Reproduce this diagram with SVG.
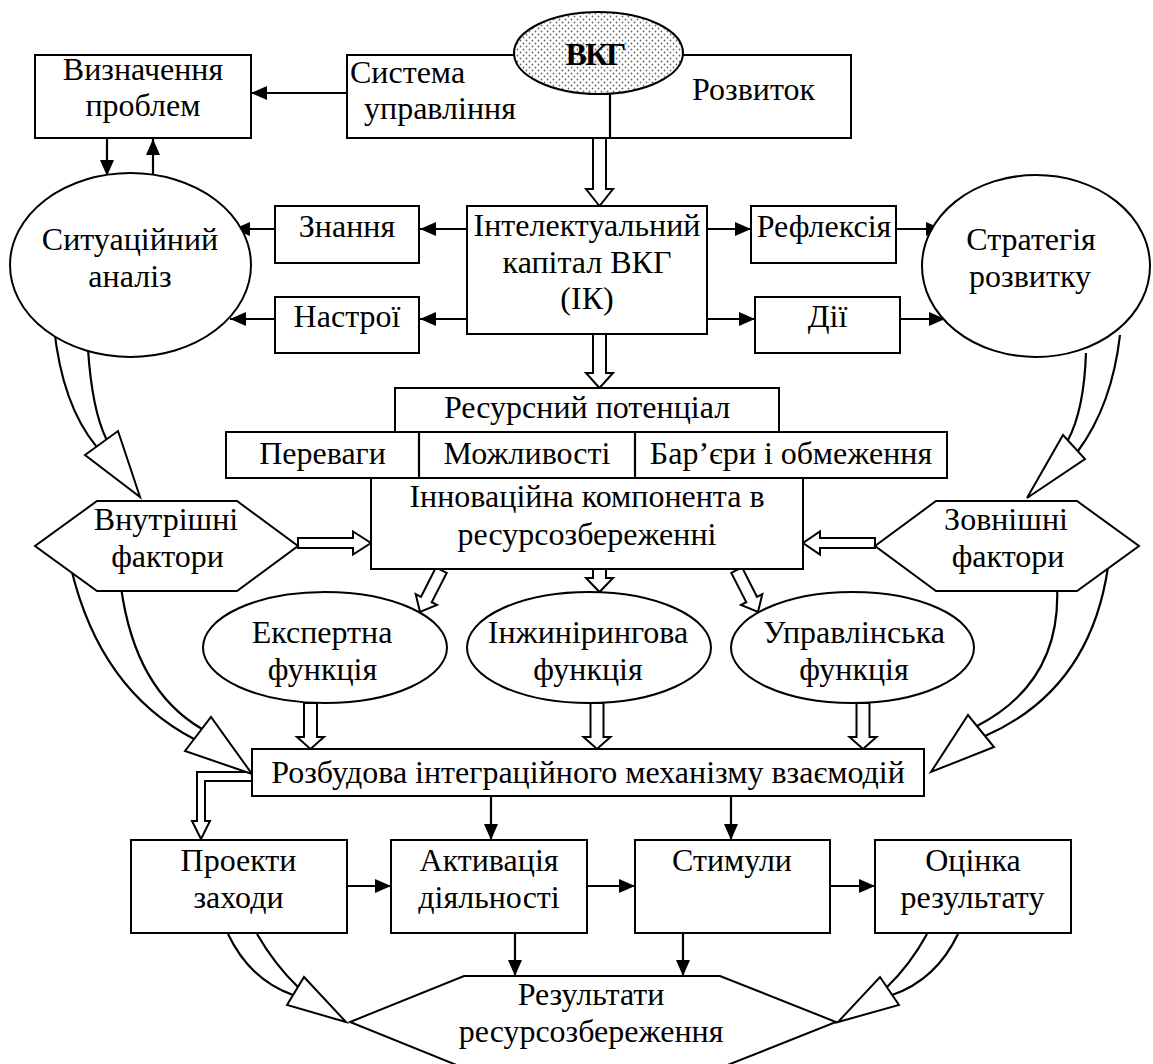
<svg xmlns="http://www.w3.org/2000/svg" width="1153" height="1064" viewBox="0 0 1153 1064">
  <style>
    .b { fill: #fff; stroke: #000; stroke-width: 2; }
    .ln { fill: none; stroke: #000; stroke-width: 2.2; }
    .ar { fill: none; stroke: #000; stroke-width: 2.2; marker-end: url(#ah); }
    .blk { fill: #fff; stroke: #000; stroke-width: 2; stroke-linejoin: miter; }
    text { font-family: "Liberation Serif", "Times New Roman", serif; font-size: 32px; fill: #000; text-anchor: middle; }
    .l { text-anchor: start; }
  </style>
  <defs>
    <marker id="ah" markerWidth="16" markerHeight="14" refX="16" refY="7" orient="auto" markerUnits="userSpaceOnUse">
      <path d="M0,0 L16,7 L0,14 z" fill="#000"/>
    </marker>
    <pattern id="dots" width="6" height="6" patternUnits="userSpaceOnUse">
      <rect width="6" height="6" fill="#fff"/>
      <circle cx="1.5" cy="1.5" r="0.9" fill="#666"/>
      <circle cx="4.5" cy="4.5" r="0.9" fill="#666"/>
    </pattern>
  </defs>

  <!-- connectors -->
  <g id="connectors">
    <!-- thin arrows -->
    <line class="ar" x1="347" y1="93" x2="251" y2="93"/>
    <line class="ar" x1="107" y1="138" x2="107" y2="176"/>
    <line class="ar" x1="153" y1="176" x2="153" y2="139"/>
    <line class="ar" x1="467" y1="229" x2="420" y2="229"/>
    <line class="ar" x1="275" y1="229" x2="234" y2="229"/>
    <line class="ar" x1="467" y1="319" x2="420" y2="319"/>
    <line class="ar" x1="275" y1="319" x2="230" y2="319"/>
    <line class="ar" x1="707" y1="229" x2="751" y2="229"/>
    <line class="ar" x1="896" y1="229" x2="942" y2="229"/>
    <line class="ar" x1="707" y1="319" x2="755" y2="319"/>
    <line class="ar" x1="900" y1="319" x2="945" y2="319"/>
    <line class="ar" x1="491" y1="796" x2="491" y2="840"/>
    <line class="ar" x1="731" y1="796" x2="731" y2="840"/>
    <line class="ar" x1="347" y1="886" x2="391" y2="886"/>
    <line class="ar" x1="587" y1="886" x2="635" y2="886"/>
    <line class="ar" x1="830" y1="886" x2="875" y2="886"/>
    <line class="ar" x1="515" y1="933" x2="515" y2="976"/>
    <line class="ar" x1="683" y1="933" x2="683" y2="976"/>

    <!-- hollow block arrows -->
    <polygon class="blk" points="593,138 606,138 606,189 613,189 599.5,206 586,189 593,189"/>
    <polygon class="blk" points="593,334 606,334 606,373 613,373 599.5,388 586,373 593,373"/>
    <polygon class="blk" points="593,569 606,569 606,578 613,578 599.5,592 586,578 593,578"/>
    <polygon class="blk" points="304,703 317,703 317,737 324,737 310.5,749 297,737 304,737"/>
    <polygon class="blk" points="590.5,703 603.5,703 603.5,737 610.5,737 597,749 583.5,737 590.5,737"/>
    <polygon class="blk" points="856.5,703 869.5,703 869.5,737 876.5,737 863,749 849.5,737 856.5,737"/>
    <polygon class="blk" points="298,538 353,538 353,531.5 371,543 353,554.5 353,548 298,548"/>
    <polygon class="blk" points="875,538 820,538 820,531.5 803,543 820,554.5 820,548 875,548"/>
    <polygon class="blk" transform="translate(420,612) rotate(27)" points="-6,-47 6,-47 6,-14 12,-14 0,0 -12,-14 -6,-14"/>
    <polygon class="blk" transform="translate(758,612) rotate(-27)" points="-6,-47 6,-47 6,-14 12,-14 0,0 -12,-14 -6,-14"/>
    <path class="blk" d="M252,772 L197,772 L197,821 L192,821 L201,839 L210,821 L205,821 L205,781 L252,781"/>

    <!-- curved block arrows -->
    <g id="curve-sit">
      <path class="ln" d="M54,327 Q62,405 96.5,446.6"/>
      <path class="ln" d="M88,349 Q92,410 106.5,439.4"/>
      <polygon class="blk" points="85,455 118,431 140,497"/>
    </g>
    <g id="curve-strat">
      <path class="ln" d="M1120,335 Q1112,405 1078,451"/>
      <path class="ln" d="M1086,353 Q1084,410 1068,440"/>
      <polygon class="blk" points="1063,435 1085,459 1027,498"/>
    </g>
    <g id="curve-inner">
      <path class="ln" d="M71,568 Q100,690 194,739"/>
      <path class="ln" d="M121,587 Q135,690 202,729"/>
      <polygon class="blk" points="185,751 211,717 252,774"/>
    </g>
    <g id="curve-outer">
      <path class="ln" d="M1108,567 Q1090,690 985,736"/>
      <path class="ln" d="M1057,585 Q1062,682 977,726"/>
      <polygon class="blk" points="968,715 994,747 931,772"/>
    </g>
    <g id="curve-proj">
      <path class="ln" d="M228,934 Q250,980 293,995"/>
      <path class="ln" d="M257,934 Q275,965 298,987"/>
      <polygon class="blk" points="287,1005 304,977 346,1022"/>
    </g>
    <g id="curve-eval">
      <path class="ln" d="M958,934 Q936,980 892,995"/>
      <path class="ln" d="M927,934 Q910,965 887,987"/>
      <polygon class="blk" points="899,1005 880,977 838,1022"/>
    </g>
  </g>

  <!-- nodes -->
  <g id="problems">
    <rect class="b" x="35" y="55" width="216" height="83"/>
    <text x="143" y="80">Визначення</text>
    <text x="143" y="116">проблем</text>
  </g>

  <g id="management">
    <rect class="b" x="347" y="55" width="504" height="83"/>
    <line class="ln" x1="610" y1="93" x2="610" y2="138"/>
    <text class="l"><tspan x="350" y="83">Система</tspan><tspan x="364" y="119">управління</tspan></text>
    <text class="l" x="692" y="100">Розвиток</text>
  </g>

  <g id="vkg">
    <ellipse cx="598.5" cy="53" rx="84.5" ry="41" fill="url(#dots)" stroke="#000" stroke-width="2"/>
    <text x="595" y="65" font-weight="bold" font-size="30" letter-spacing="-2">ВКГ</text>
  </g>

  <g id="situation">
    <ellipse class="b" cx="130.5" cy="265" rx="120.5" ry="92"/>
    <text x="130" y="250">Ситуаційний</text>
    <text x="130" y="287">аналіз</text>
  </g>

  <g id="knowledge">
    <rect class="b" x="275" y="206" width="144" height="57"/>
    <text x="347" y="237">Знання</text>
  </g>

  <g id="moods">
    <rect class="b" x="275" y="297" width="144" height="56"/>
    <text x="347" y="327">Настрої</text>
  </g>

  <g id="capital">
    <rect class="b" x="467" y="206" width="240" height="128"/>
    <text x="587" y="236">Інтелектуальний</text>
    <text x="587" y="273">капітал ВКГ</text>
    <text x="587" y="309">(ІК)</text>
  </g>

  <g id="reflection">
    <rect class="b" x="751" y="206" width="145" height="57"/>
    <text x="824" y="237">Рефлексія</text>
  </g>

  <g id="actions">
    <rect class="b" x="755" y="297" width="145" height="56"/>
    <text x="827.5" y="327">Дії</text>
  </g>

  <g id="strategy">
    <ellipse class="b" cx="1036" cy="266" rx="114" ry="91"/>
    <text x="1031" y="250">Стратегія</text>
    <text x="1030" y="287">розвитку</text>
  </g>

  <g id="potential">
    <rect class="b" x="395" y="388" width="384" height="44"/>
    <text x="587" y="418">Ресурсний потенціал</text>
  </g>

  <g id="factors-row">
    <rect class="b" x="226" y="432" width="721" height="46"/>
    <line class="ln" x1="419" y1="432" x2="419" y2="478"/>
    <line class="ln" x1="635" y1="432" x2="635" y2="478"/>
    <text x="322.5" y="464">Переваги</text>
    <text x="527" y="464">Можливості</text>
    <text x="791" y="464">Бар’єри і обмеження</text>
  </g>

  <g id="innovation">
    <rect class="b" x="371" y="478" width="432" height="91"/>
    <text x="587" y="507">Інноваційна компонента в</text>
    <text x="587" y="545">ресурсозбереженні</text>
  </g>

  <g id="internal">
    <polygon class="b" points="97,501 237,501 298,546 237,591 97,591 35,546"/>
    <text x="166" y="530">Внутрішні</text>
    <text x="167.5" y="567">фактори</text>
  </g>

  <g id="external">
    <polygon class="b" points="936,501 1077,501 1139,546 1077,591 936,591 875,546"/>
    <text x="1006" y="530">Зовнішні</text>
    <text x="1008" y="567">фактори</text>
  </g>

  <g id="expert">
    <ellipse class="b" cx="325" cy="647.5" rx="122" ry="55.5"/>
    <text x="322" y="643">Експертна</text>
    <text x="322.5" y="680">функція</text>
  </g>

  <g id="engineering">
    <ellipse class="b" cx="589" cy="647.5" rx="122" ry="55.5"/>
    <text x="588" y="643">Інжинірингова</text>
    <text x="588" y="680">функція</text>
  </g>

  <g id="managerial">
    <ellipse class="b" cx="852.5" cy="647.5" rx="121.5" ry="55.5"/>
    <text x="854" y="643">Управлінська</text>
    <text x="854" y="680">функція</text>
  </g>

  <g id="integration">
    <rect class="b" x="252" y="749" width="672" height="47"/>
    <text x="588" y="783">Розбудова інтеграційного механізму взаємодій</text>
  </g>

  <g id="projects">
    <rect class="b" x="131" y="840" width="216" height="93"/>
    <text x="238.5" y="871">Проекти</text>
    <text x="238.5" y="908">заходи</text>
  </g>

  <g id="activation">
    <rect class="b" x="391" y="840" width="196" height="93"/>
    <text x="489" y="871">Активація</text>
    <text x="489" y="908">діяльності</text>
  </g>

  <g id="stimuli">
    <rect class="b" x="635" y="840" width="195" height="93"/>
    <text x="732" y="871">Стимули</text>
  </g>

  <g id="evaluation">
    <rect class="b" x="875" y="840" width="196" height="93"/>
    <text x="973" y="871">Оцінка</text>
    <text x="972.5" y="908">результату</text>
  </g>

  <g id="results">
    <polygon class="b" points="464,976 720,976 836,1022 720,1068 464,1068 350,1022"/>
    <text x="591" y="1005">Результати</text>
    <text x="591" y="1042">ресурсозбереження</text>
  </g>
</svg>
